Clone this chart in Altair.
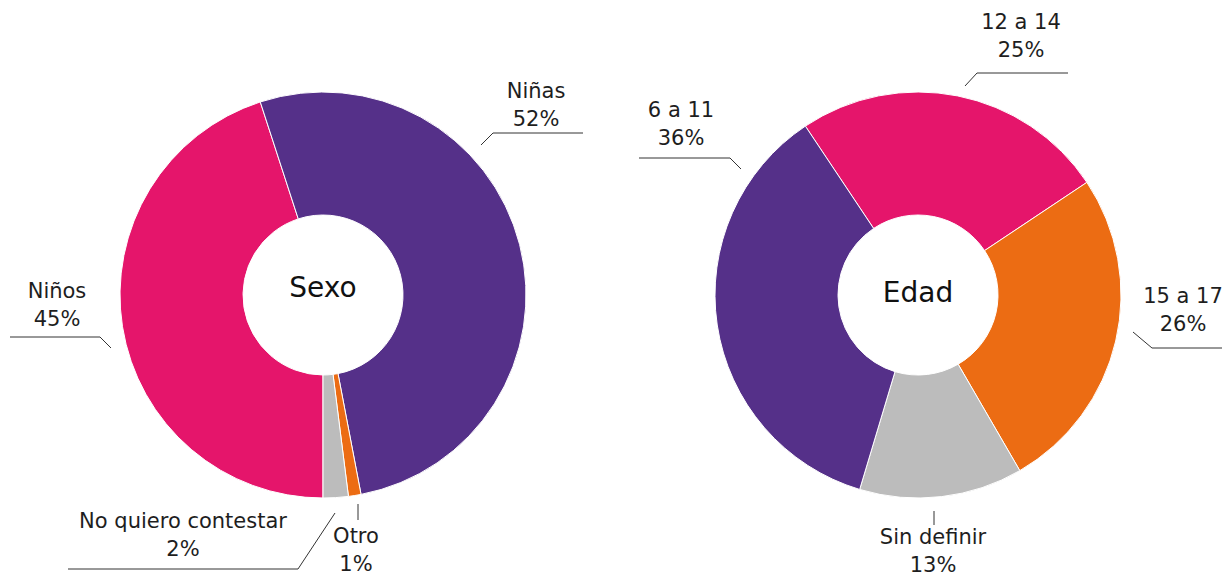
import altair as alt
import pandas as pd
import numpy as np

# ---------------- data ----------------
sexo_labels = ["Niños", "Niñas", "Otro", "No quiero contestar"]
sexo_values = [45, 52, 1, 2]
edad_labels = ["12 a 14", "15 a 17", "Sin definir", "6 a 11"]
edad_values = [25, 26, 13, 36]
pie_titles = ["Sexo", "Edad"]

# ---------------- style / layout ----------------
PURPLE, PINK, ORANGE, GRAY = "#553089", "#E5156B", "#EC6C13", "#BCBCBC"
sexo_colors = [PINK, PURPLE, ORANGE, GRAY]
edad_colors = [PINK, ORANGE, GRAY, PURPLE]
W, H = 1214, 571
centers = [(323, 295), (918, 295)]
title_y = [289, 294]
start_deg = [180.0, 326.3]
R_OUT, R_IN = 203, 80
FONT = "DejaVu Sans"

# label anchor (first text line centre) and leader polyline, screen px
label_layout = {
    "Niñas": ((536, 92), [(481, 145), (493, 133), (583, 133)]),
    "Niños": ((57, 292), [(10, 337), (100, 337), (111, 348)]),
    "No quiero contestar": ((183, 522), [(68, 569), (298, 569), (335, 513)]),
    "Otro": ((356, 537), [(358, 504), (358, 520)]),
    "6 a 11": ((681, 111), [(639, 158), (730, 158), (741, 169)]),
    "12 a 14": ((1021, 23), [(965, 86), (977, 73), (1068, 73)]),
    "15 a 17": ((1183, 297), [(1133, 332), (1152, 348), (1232, 348)]),
    "Sin definir": ((933, 538), [(934, 511), (934, 525)]),
}

# ---------------- tables ----------------
arc_rows, text_rows, line_rows, title_rows = [], [], [], []
pies = [(sexo_labels, sexo_values, sexo_colors), (edad_labels, edad_values, edad_colors)]
for p, (labs, vals, cols) in enumerate(pies):
    total = float(sum(vals))
    a = np.deg2rad(start_deg[p])
    for lab, v, c in zip(labs, vals, cols):
        b = a + v / total * 2 * np.pi
        arc_rows.append(dict(pie=p, label=lab, value=v, t1=a, t2=b,
                             cx=centers[p][0], cy=centers[p][1], color=c))
        a = b
        (tx, ty), pts = label_layout[lab]
        text_rows.append(dict(label=lab, text=f"{lab}\n{v}%", x=tx, y=ty))
        for i, (px, py) in enumerate(pts):
            line_rows.append(dict(label=lab, i=i, x=px, y=py))
    title_rows.append(dict(text=pie_titles[p], x=centers[p][0], y=title_y[p]))

arc_df = pd.DataFrame(arc_rows)
text_df = pd.DataFrame(text_rows)
line_df = pd.DataFrame(line_rows)
title_df = pd.DataFrame(title_rows)

xs = alt.Scale(domain=[8, 8 + W], nice=False, zero=False)
ys = alt.Scale(domain=[8 + H, 8], nice=False, zero=False)

arcs = alt.Chart(arc_df).mark_arc(
    outerRadius=R_OUT, innerRadius=R_IN, stroke="white", strokeWidth=1
).encode(
    x=alt.X("cx:Q", scale=xs, axis=None),
    y=alt.Y("cy:Q", scale=ys, axis=None),
    theta=alt.Theta("t1:Q", scale=None),
    theta2="t2:Q",
    color=alt.Color("color:N", scale=None),
)

lines = alt.Chart(line_df).mark_line(color="#333333", strokeWidth=1).encode(
    x=alt.X("x:Q", scale=xs, axis=None),
    y=alt.Y("y:Q", scale=ys, axis=None),
    detail="label:N",
    order="i:Q",
)

labels = alt.Chart(text_df).mark_text(
    lineBreak="\n", font=FONT, fontSize=21, lineHeight=28,
    color="#1e1e1e", align="center", baseline="middle"
).encode(
    x=alt.X("x:Q", scale=xs, axis=None),
    y=alt.Y("y:Q", scale=ys, axis=None),
    text="text:N",
)

titles = alt.Chart(title_df).mark_text(
    font=FONT, fontSize=28, color="#111111", align="center", baseline="middle"
).encode(
    x=alt.X("x:Q", scale=xs, axis=None),
    y=alt.Y("y:Q", scale=ys, axis=None),
    text="text:N",
)

chart = alt.layer(arcs, lines, labels, titles).properties(
    width=W, height=H, padding=0, autosize="none"
).configure_view(stroke=None)

chart.save("out.html", embed_options={"renderer": "svg", "actions": False})
